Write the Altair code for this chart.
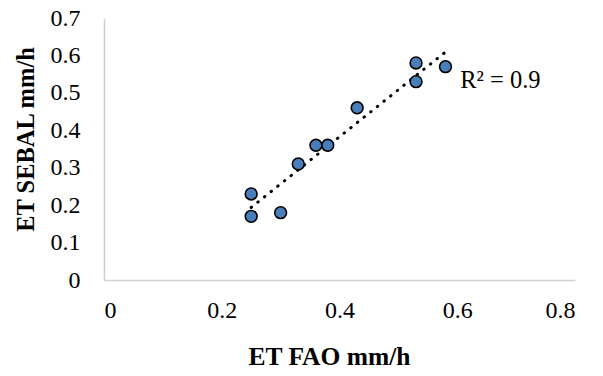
import altair as alt
import pandas as pd

et_fao = [0.25, 0.25, 0.30, 0.33, 0.36, 0.38, 0.43, 0.53, 0.53, 0.58]
et_sebal = [0.23, 0.17, 0.18, 0.31, 0.36, 0.36, 0.46, 0.58, 0.53, 0.57]
x_ticks = [0, 0.2, 0.4, 0.6, 0.8]
y_ticks = [0, 0.1, 0.2, 0.3, 0.4, 0.5, 0.6, 0.7]
r2_label = ["R² = 0.9"]
r2_pos_x = [0.605]
r2_pos_y = [0.532]

df = pd.DataFrame({"fao": et_fao, "sebal": et_sebal})
lab = pd.DataFrame({"x": r2_pos_x, "y": r2_pos_y, "t": r2_label})

FONT = "Liberation Serif"

xscale = alt.Scale(domain=[0, 0.8], nice=False, zero=True)
yscale = alt.Scale(domain=[0, 0.7], nice=False, zero=True)

xaxis = alt.Axis(title="ET FAO mm/h", values=x_ticks, format="~g",
                 labelPadding=18, titlePadding=22, labelOverlap=False,
                 titleX=225, titleFontSize=25.5)
yaxis = alt.Axis(title="ET SEBAL mm/h", values=y_ticks, format="~g",
                 labelPadding=24, titlePadding=12, labelOverlap=False,
                 titleY=121, titleFontSize=24.5)

X = alt.X("fao:Q", scale=xscale, axis=xaxis)
Y = alt.Y("sebal:Q", scale=yscale, axis=yaxis)

base = alt.Chart(df)

trend = base.transform_regression("fao", "sebal").mark_line(
    color="black", strokeDash=[0.5, 8], strokeWidth=3, strokeCap="round"
).encode(x=X, y=Y)

points = base.mark_point(
    shape="circle", filled=True, fill="#4a7ebb", stroke="black", strokeWidth=1.6,
    size=140, opacity=1
).encode(x=X, y=Y)

text = alt.Chart(lab).mark_text(
    align="left", baseline="middle", font=FONT, fontSize=24.5, color="black"
).encode(
    x=alt.X("x:Q", scale=xscale, axis=xaxis),
    y=alt.Y("y:Q", scale=yscale, axis=yaxis),
    text="t:N",
)

chart = alt.layer(trend, points, text).properties(
    width=471, height=262,
    autosize=alt.AutoSizeParams(type="none"),
    padding={"left": 96, "top": 10, "right": 20, "bottom": 90},
).configure_view(stroke=None).configure_axis(
    grid=False, ticks=False, domainColor="#d0d0d0", domainWidth=1.5,
    labelFont=FONT, labelFontSize=24, labelColor="black",
    titleFont=FONT, titleFontWeight="bold", titleColor="black",
)

chart.save("out.html", embed_options={"renderer": "svg", "actions": False})
